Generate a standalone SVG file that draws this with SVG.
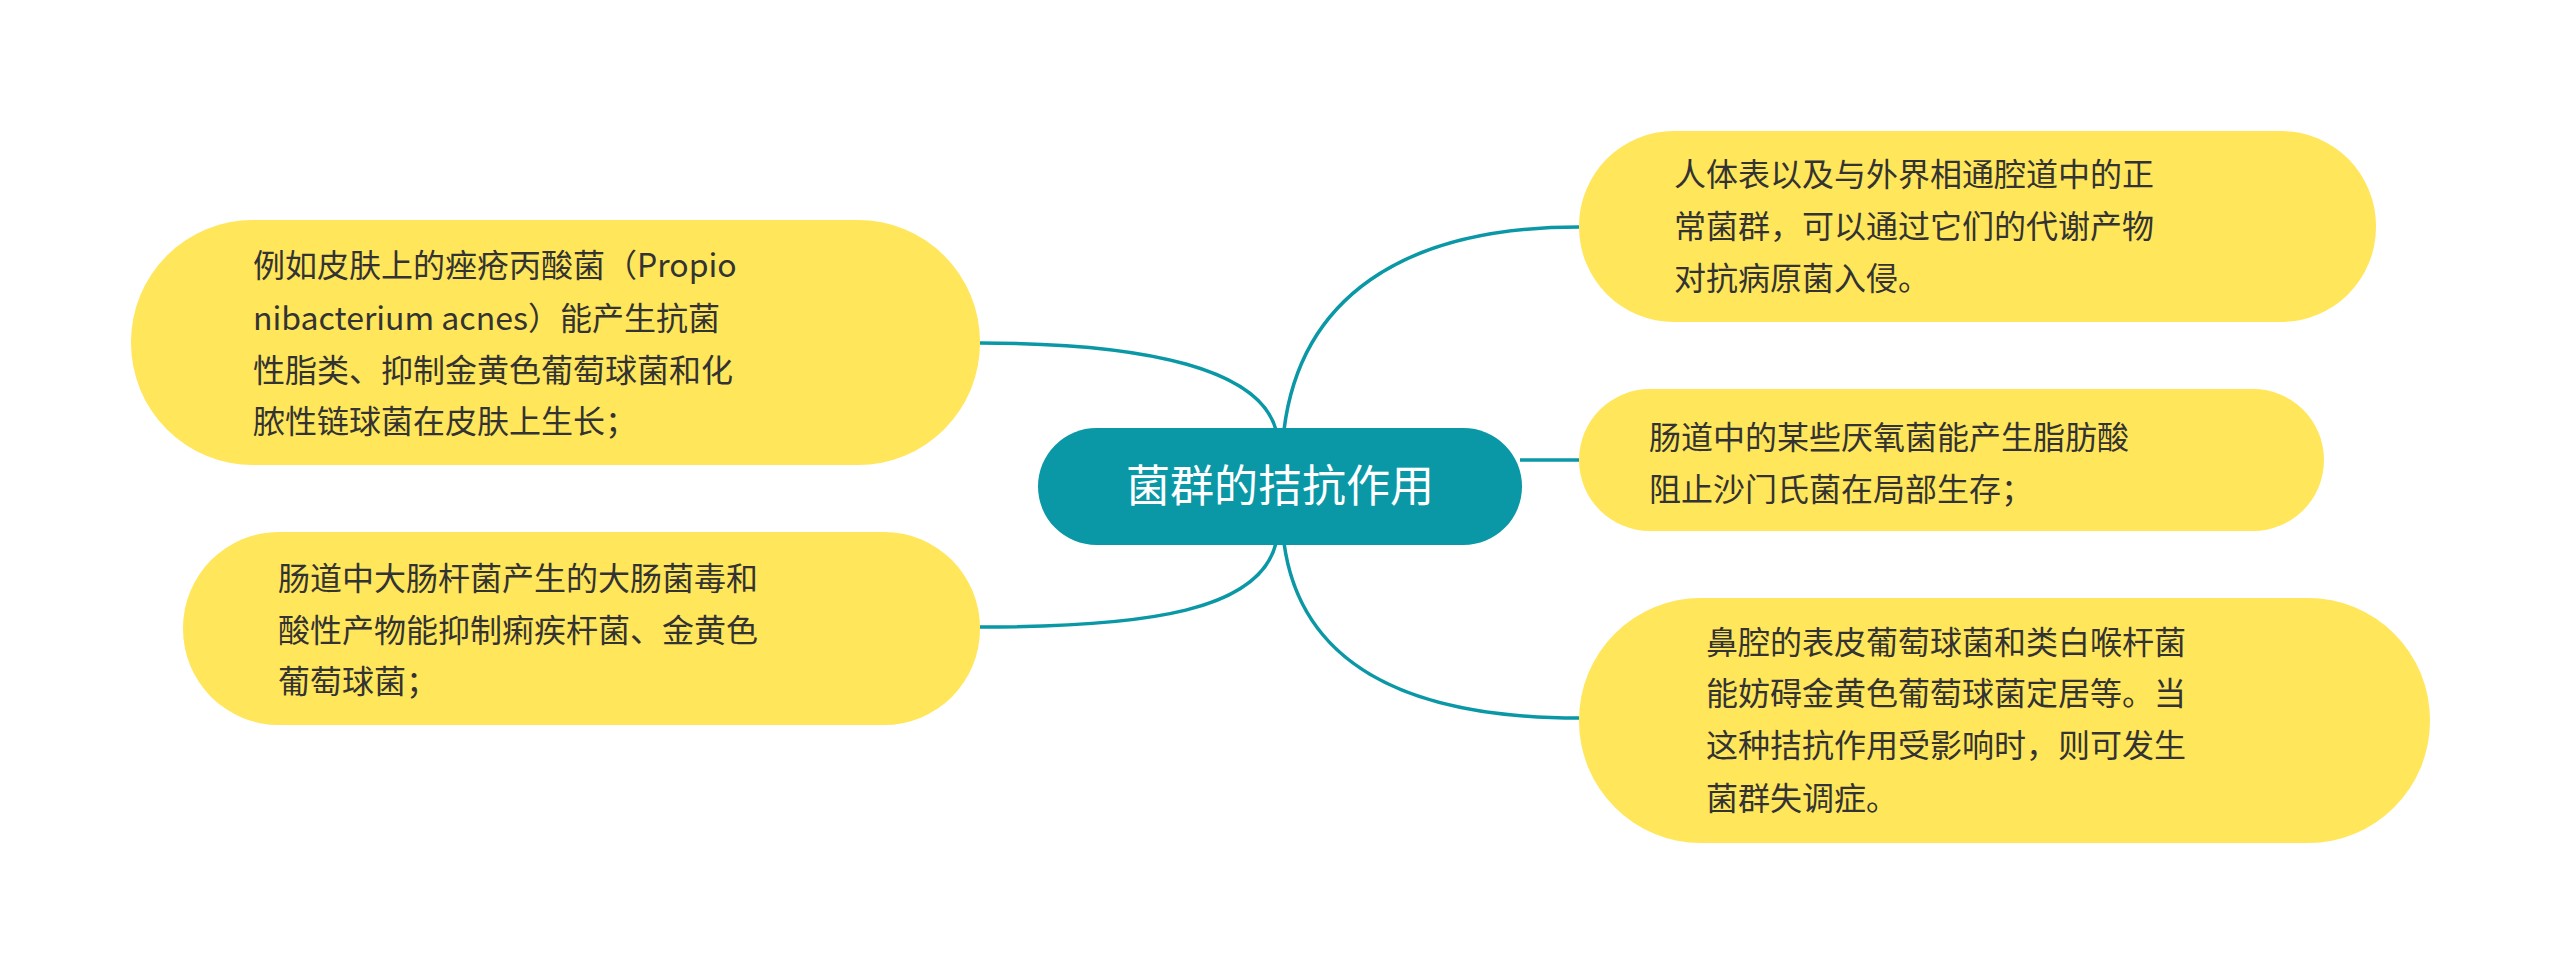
<svg xmlns="http://www.w3.org/2000/svg" width="2560" height="973" viewBox="0 0 2560 973">
<style>
.n{fill:#FFE65A}
.t{font-family:"Noto Sans CJK SC","Noto Sans",sans-serif;font-size:32px;fill:#333}
.c{fill:none;stroke:#0A98A6;stroke-width:3.5}
</style>
<rect width="2560" height="973" fill="#fff"/>
<g id="connectors">
<path class="c" d="M1284,430 C1300,300 1400,227 1579,227"/>
<path class="c" d="M1520,460 L1579,460"/>
<path class="c" d="M1284,543 C1300,660 1400,718 1579,718"/>
<path class="c" d="M980,343 C1150,343 1260,370 1276,430"/>
<path class="c" d="M980,627 C1150,627 1260,610 1276,543"/>
</g>
<g id="center">
<rect x="1038" y="428" width="484" height="117" rx="58.5" fill="#0A98A6"/>
<text x="1280" y="502" text-anchor="middle" font-family="'Noto Sans CJK SC',sans-serif" font-size="44" fill="#fff">菌群的拮抗作用</text>
</g>
<g id="left1">
<rect class="n" x="131" y="220" width="849" height="245" rx="122"/>
<text class="t"><tspan x="253" y="277">例如皮肤上的痤疮丙酸菌（Propio</tspan><tspan x="253" y="330">nibacterium acnes）能产生抗菌</tspan><tspan x="253" y="382">性脂类、抑制金黄色葡萄球菌和化</tspan><tspan x="253" y="433">脓性链球菌在皮肤上生长；</tspan></text>
</g>
<g id="left2">
<rect class="n" x="183" y="532" width="797" height="193" rx="96"/>
<text class="t"><tspan x="278" y="590">肠道中大肠杆菌产生的大肠菌毒和</tspan><tspan x="278" y="642">酸性产物能抑制痢疾杆菌、金黄色</tspan><tspan x="278" y="693">葡萄球菌；</tspan></text>
</g>
<g id="right1">
<rect class="n" x="1579" y="131" width="797" height="191" rx="95"/>
<text class="t"><tspan x="1674" y="186">人体表以及与外界相通腔道中的正</tspan><tspan x="1674" y="238">常菌群，可以通过它们的代谢产物</tspan><tspan x="1674" y="290">对抗病原菌入侵。</tspan></text>
</g>
<g id="right2">
<rect class="n" x="1579" y="389" width="745" height="142" rx="71"/>
<text class="t"><tspan x="1649" y="449">肠道中的某些厌氧菌能产生脂肪酸</tspan><tspan x="1649" y="501">阻止沙门氏菌在局部生存；</tspan></text>
</g>
<g id="right3">
<rect class="n" x="1579" y="598" width="851" height="245" rx="122"/>
<text class="t"><tspan x="1706" y="654">鼻腔的表皮葡萄球菌和类白喉杆菌</tspan><tspan x="1706" y="705">能妨碍金黄色葡萄球菌定居等。当</tspan><tspan x="1706" y="757">这种拮抗作用受影响时，则可发生</tspan><tspan x="1706" y="810">菌群失调症。</tspan></text>
</g>
</svg>
